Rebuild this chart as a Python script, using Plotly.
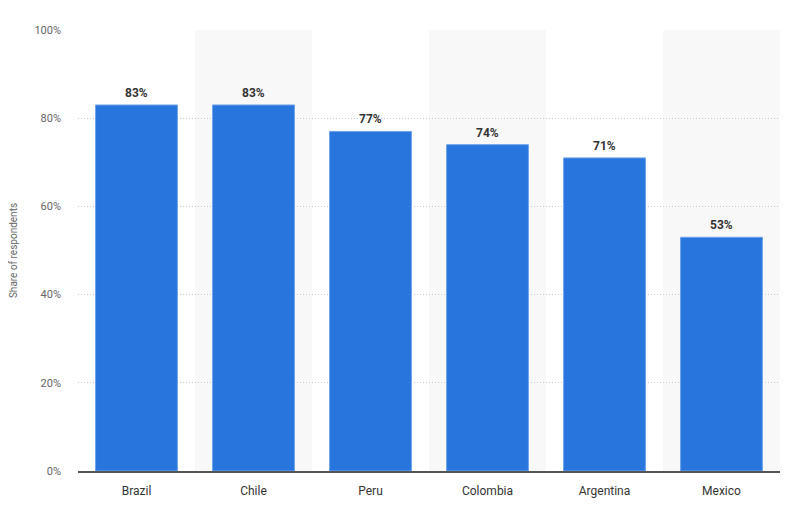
import plotly.graph_objects as go

countries = ["Brazil", "Chile", "Peru", "Colombia", "Argentina", "Mexico"]
shares = [83, 83, 77, 74, 71, 53]
y_ticks = [0, 20, 40, 60, 80, 100]
y_tick_labels = ["0%", "20%", "40%", "60%", "80%", "100%"]

xs = list(range(len(countries)))

fig = go.Figure()
fig.add_trace(go.Bar(
    x=xs,
    y=shares,
    width=0.7,
    marker=dict(color="#2876dd", line=dict(color="#6fa3ea", width=1)),
    hoverinfo="skip",
))

for x, v in zip(xs, shares):
    fig.add_annotation(x=x, y=v, text=f"<b>{v}%</b>", showarrow=False, yanchor="bottom",
                       yshift=3, font=dict(family="Roboto, Arial, sans-serif", size=12, color="#333333"))

shapes = []
for i in xs:
    if i % 2 == 1:
        shapes.append(dict(type="rect", xref="x", yref="paper", x0=i - 0.5, x1=i + 0.5,
                           y0=0, y1=1, fillcolor="#f8f8f8", line=dict(width=0), layer="below"))

fig.update_layout(
    width=785, height=500,
    margin=dict(l=70, r=13, t=22, b=37),
    paper_bgcolor="white", plot_bgcolor="white",
    showlegend=False,
    shapes=shapes,
    font=dict(family="Roboto, Arial, sans-serif"),
    xaxis=dict(
        tickmode="array", tickvals=xs, ticktext=countries,
        range=[-0.5, len(countries) - 0.5],
        showgrid=False, zeroline=False, automargin=False,
        showline=True, linecolor="#555555", linewidth=2,
        ticks="", tickfont=dict(size=12, color="#333333"),
        ticklabelstandoff=8,
    ),
    yaxis=dict(
        range=[0, 100], tickmode="array", tickvals=y_ticks, ticktext=y_tick_labels,
        showgrid=True, gridcolor="#c8c8c8", griddash="1px,2px", gridwidth=1,
        zeroline=False, ticks="", ticklen=0, automargin=False,
        tickfont=dict(size=11, color="#666666"),
        ticklabelstandoff=16,
        title=dict(text="Share of respondents", font=dict(size=10, color="#666666"), standoff=18),
    ),
)

fig.write_html("out.html")
